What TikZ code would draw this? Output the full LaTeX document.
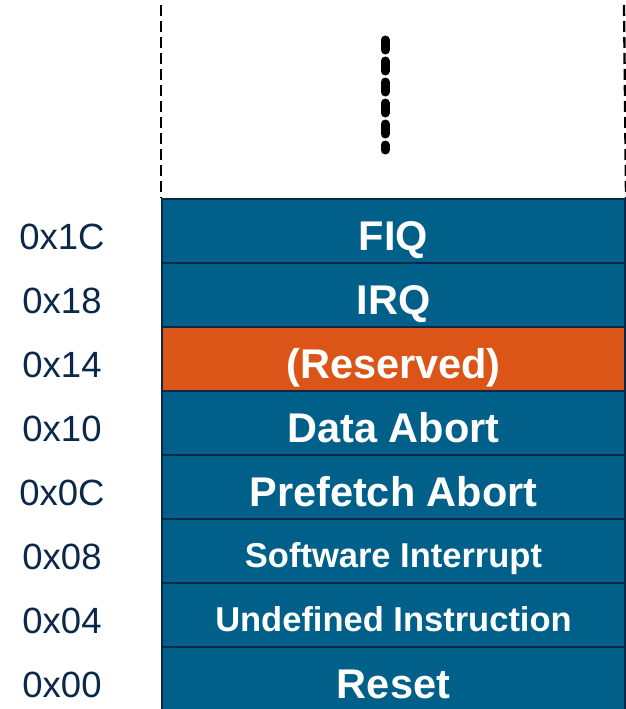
\documentclass[tikz,border=0pt]{standalone}
\usepackage{fontspec}
\setmainfont{Liberation Sans}
\usetikzlibrary{positioning}
\definecolor{vecblue}{RGB}{0,96,138}
\definecolor{vecorange}{RGB}{220,85,24}
\definecolor{vecnavy}{RGB}{12,40,72}

\begin{document}
\begin{tikzpicture}[x=1pt, y=-1pt,
    vecrow/.style={draw=vecnavy, line width=2pt, fill=vecblue, text=white,
      font=\bfseries\fontsize{41.5}{48}\selectfont, text height=38pt, text depth=0pt,
      minimum width=463pt, minimum height=64pt, inner sep=0pt, anchor=north west},
    bigtxt/.style={},
    smalltxt/.style={font=\bfseries\fontsize{34.5}{40}\selectfont, text height=33pt},
    reserved/.style={fill=vecorange},
    addr/.style={text=vecnavy, font=\fontsize{36.5}{42}\selectfont, inner sep=0pt,
      text height=36pt, text depth=0pt}]
    \useasboundingbox (0,0) rectangle (625,709);
    \pgfmathsetmacro{\rowH}{64}  % height of one vector slot
    \pgfmathsetmacro{\topY}{198}  % top of the table
    % vector slots, top to bottom
    \foreach \nm/\txt/\adr/\sty [count=\i from 0] in {
        fiq/FIQ/0x1C/bigtxt,
        irq/IRQ/0x18/bigtxt,
        rsv/(Reserved)/0x14/reserved,
        dab/Data Abort/0x10/bigtxt,
        pab/Prefetch Abort/0x0C/bigtxt,
        swi/Software Interrupt/0x08/smalltxt,
        und/Undefined Instruction/0x04/smalltxt,
        rst/Reset/0x00/bigtxt} {
      \node[vecrow, \sty] (\nm) at (161, \topY + \i*\rowH) {\txt};
      \node[addr] (a\nm) at ([xshift=-99pt]\nm.west) {\adr};
    }
    % open end of the table
    \coordinate (ltop) at (161,5);
    \coordinate (rtop) at (624,5);
    \draw[line width=2.3pt, dash pattern=on 11pt off 5pt] (ltop) -- (fiq.north west);
    \draw[line width=2.3pt, dash pattern=on 11pt off 5pt] (rtop) -- (fiq.north east);
    % continuation dots
    \coordinate (dtop) at (385,40);
    \coordinate (dbot) at (385,150);
    \draw[line width=9pt, line cap=round, dash pattern=on 10pt off 11pt] (dtop) -- (dbot);
\end{tikzpicture}
\end{document}
